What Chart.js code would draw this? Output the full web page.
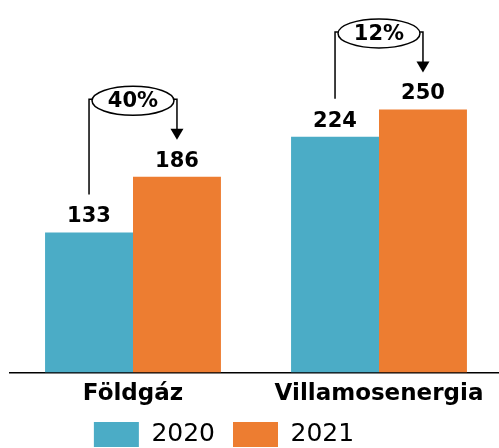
<!DOCTYPE html>
<html>
<head>
<meta charset="utf-8">
<script src="https://cdn.jsdelivr.net/npm/chart.js@4.4.1/dist/chart.umd.min.js"></script>
<style>
  html, body { margin: 0; padding: 0; background: #fff; overflow: hidden; }
  #wrap { width: 502px; height: 448px; position: relative; }
</style>
</head>
<body>
<div id="wrap"><canvas id="chart"></canvas></div>
<script>
// Adatok
const categories = ['Földgáz', 'Villamosenergia'];
const seriesNames = ['2020', '2021'];
const values2020 = [133, 224];
const values2021 = [186, 250];
const colors = ['#4bacc6', '#ed7d31'];

// Értékcímkék a hasábok fölött
const valueLabels = {
    id: 'valueLabels',
    afterDatasetsDraw(chart) {
        const ctx = chart.ctx;
        ctx.save();
        ctx.font = 'bold 21px "DejaVu Sans"';
        ctx.fillStyle = '#000';
        ctx.textAlign = 'center';
        ctx.textBaseline = 'alphabetic';
        chart.data.datasets.forEach((ds, di) => {
            chart.getDatasetMeta(di).data.forEach((bar, i) => {
                ctx.fillText(String(ds.data[i]), bar.x, bar.y - 10);
            });
        });
        ctx.restore();
    }
};

// Növekedés jelölése: vonal, ellipszis, nyíl
const growthMarks = {
    id: 'growthMarks',
    afterDatasetsDraw(chart) {
        const ctx = chart.ctx;
        const m0 = chart.getDatasetMeta(0).data;
        const m1 = chart.getDatasetMeta(1).data;
        ctx.save();
        ctx.strokeStyle = '#000';
        ctx.fillStyle = '#000';
        ctx.lineWidth = 1.5;
        m0.forEach((a, i) => {
            const b = m1[i];
            const yE = b.y - 76;
            const cx = (a.x + b.x) / 2;
            const rx = (b.x - a.x) / 2 - 3;
            const ry = 14.5;
            const tip = b.y - 37;

            ctx.beginPath();
            ctx.moveTo(a.x, a.y - 38);
            ctx.lineTo(a.x, yE - 1.5);
            ctx.lineTo(cx - rx, yE - 1.5);
            ctx.stroke();

            ctx.beginPath();
            ctx.ellipse(cx, yE, rx, ry, 0, 0, Math.PI * 2);
            ctx.stroke();

            ctx.beginPath();
            ctx.moveTo(cx + rx, yE - 1.5);
            ctx.lineTo(b.x, yE - 1.5);
            ctx.lineTo(b.x, tip - 10);
            ctx.stroke();

            ctx.beginPath();
            ctx.moveTo(b.x - 6.5, tip - 11);
            ctx.lineTo(b.x + 6.5, tip - 11);
            ctx.lineTo(b.x, tip);
            ctx.closePath();
            ctx.fill();

            const pct = Math.round((values2021[i] - values2020[i]) / values2020[i] * 100) + '%';
            ctx.font = 'bold 21px "DejaVu Sans"';
            ctx.textAlign = 'center';
            ctx.textBaseline = 'middle';
            ctx.fillText(pct, cx, yE + 1);
        });
        ctx.restore();
    }
};

// Jelmagyarázat igazítása
const legendShift = {
    id: 'legendShift',
    afterLayout(chart) {
        const lg = chart.legend;
        if (lg) {
            lg.left -= 32; lg.right -= 32;
            lg.top -= 12; lg.height += 12;
        }
    }
};

new Chart(document.getElementById('chart'), {
    type: 'bar',
    data: {
        labels: categories,
        datasets: [
            { label: seriesNames[0], data: values2020, backgroundColor: colors[0] },
            { label: seriesNames[1], data: values2021, backgroundColor: colors[1] }
        ]
    },
    options: {
        responsive: true,
        maintainAspectRatio: false,
        animation: false,
        layout: { padding: { left: 10, right: 0, top: 0, bottom: 0 } },
        datasets: {
            bar: { categoryPercentage: 0.715, barPercentage: 1.0 }
        },
        plugins: {
            legend: {
                position: 'bottom',
                maxHeight: 32,
                labels: {
                    boxWidth: 45,
                    boxHeight: 25,
                    padding: 18,
                    color: '#000',
                    font: { family: '"DejaVu Sans"', size: 25 }
                }
            },
            tooltip: { enabled: false }
        },
        scales: {
            x: {
                grid: { display: false, drawTicks: false },
                border: { display: true, color: '#000', width: 1.5 },
                ticks: {
                    color: '#000',
                    padding: 8,
                    font: { family: '"DejaVu Sans"', size: 23, weight: 'bold' }
                }
            },
            y: {
                display: false,
                min: 0,
                max: 354
            }
        }
    },
    plugins: [valueLabels, growthMarks, legendShift]
});
</script>
</body>
</html>
